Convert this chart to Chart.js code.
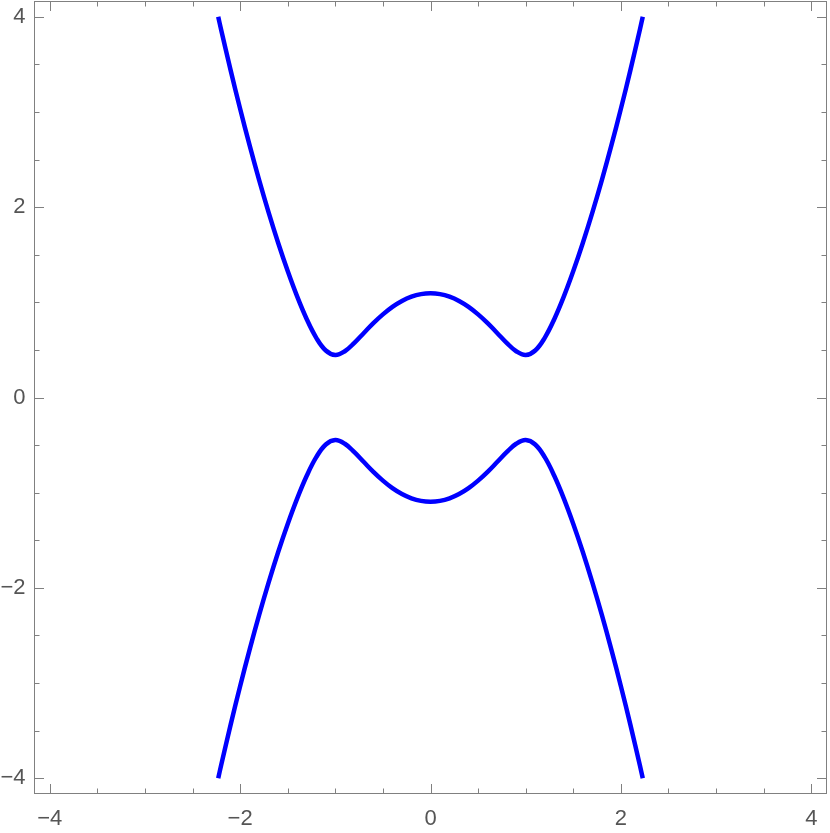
<!DOCTYPE html>
<html>
<head>
<meta charset="utf-8">
<script src="https://cdn.jsdelivr.net/npm/chart.js@4.4.1/dist/chart.umd.min.js"></script>
<style>
  html, body { margin: 0; padding: 0; background: #fff; }
  #plot { display: block; }
</style>
</head>
<body>
<canvas id="plot" width="830" height="833"></canvas>
<script>
// curve samples (upper and lower branch share x)
const xValues = [-2.23, -2.2, -2.1, -2.0, -1.9, -1.8, -1.7, -1.6, -1.5, -1.4, -1.3, -1.2, -1.1, -1.0,
  -0.9, -0.8, -0.7, -0.6, -0.5, -0.4, -0.3, -0.2, -0.1, 0,
  0.1, 0.2, 0.3, 0.4, 0.5, 0.6, 0.7, 0.8, 0.9, 1.0,
  1.1, 1.2, 1.3, 1.4, 1.5, 1.6, 1.7, 1.8, 1.9, 2.0, 2.1, 2.2, 2.23];

const upperY = [4.000, 3.866, 3.439, 3.033, 2.648, 2.284, 1.942, 1.623, 1.328, 1.059, 0.822, 0.627, 0.494, 0.447,
  0.486, 0.574, 0.678, 0.781, 0.873, 0.952, 1.014, 1.059, 1.086, 1.095,
  1.086, 1.059, 1.014, 0.952, 0.873, 0.781, 0.678, 0.574, 0.486, 0.447,
  0.494, 0.627, 0.822, 1.059, 1.328, 1.623, 1.942, 2.284, 2.648, 3.033, 3.439, 3.866, 4.000];

const lowerY = [-4.000, -3.866, -3.439, -3.033, -2.648, -2.284, -1.942, -1.623, -1.328, -1.059, -0.822, -0.627, -0.494, -0.447,
  -0.486, -0.574, -0.678, -0.781, -0.873, -0.952, -1.014, -1.059, -1.086, -1.095,
  -1.086, -1.059, -1.014, -0.952, -0.873, -0.781, -0.678, -0.574, -0.486, -0.447,
  -0.494, -0.627, -0.822, -1.059, -1.328, -1.623, -1.942, -2.284, -2.648, -3.033, -3.439, -3.866, -4.000];

const tickLabels = [-4, -2, 0, 2, 4];
const minorTicks = [-4, -3.5, -3, -2.5, -2, -1.5, -1, -0.5, 0, 0.5, 1, 1.5, 2, 2.5, 3, 3.5, 4];
const axisRange = [-4.16, 4.16];

const toPoints = ys => xValues.map((x, i) => ({ x: x, y: ys[i] }));
const fmt = v => (v < 0 ? '\u2212' + Math.abs(v) : String(v));

// Mathematica style frame with inward ticks on all four sides
const frameTicks = {
  id: 'frameTicks',
  afterDraw(chart) {
    const { ctx, chartArea: a, scales: { x, y } } = chart;
    ctx.save();
    ctx.strokeStyle = '#808080';
    ctx.lineWidth = 1;
    ctx.strokeRect(a.left, a.top, a.right - a.left, a.bottom - a.top);
    ctx.beginPath();
    minorTicks.forEach(v => {
      const len = tickLabels.includes(v) ? 9.5 : 5;
      const px = Math.round(x.getPixelForValue(v)) + 0.5;
      ctx.moveTo(px, a.bottom); ctx.lineTo(px, a.bottom - len);
      ctx.moveTo(px, a.top); ctx.lineTo(px, a.top + len);
      const py = Math.round(y.getPixelForValue(v)) + 0.5;
      ctx.moveTo(a.left, py); ctx.lineTo(a.left + len, py);
      ctx.moveTo(a.right, py); ctx.lineTo(a.right - len, py);
    });
    ctx.stroke();
    ctx.restore();
  }
};

const tickFont = { family: 'Arial, "Liberation Sans", sans-serif', size: 22 };

const noEdgePadding = s => {
  s.paddingTop = 0; s.paddingBottom = 0; s.paddingLeft = 0; s.paddingRight = 0;
};

const curveStyle = { borderColor: '#0000ff', borderWidth: 4.5, borderJoinStyle: 'round', pointRadius: 0, tension: 0.4, fill: false };

new Chart(document.getElementById('plot'), {
  type: 'line',
  data: {
    datasets: [
      Object.assign({ data: toPoints(upperY) }, curveStyle),
      Object.assign({ data: toPoints(lowerY) }, curveStyle)
    ]
  },
  options: {
    responsive: false,
    animation: false,
    layout: { padding: { top: 1.5, right: 3.5, left: 0, bottom: 0 } },
    plugins: { legend: { display: false }, tooltip: { enabled: false } },
    scales: {
      x: {
        type: 'linear',
        min: axisRange[0],
        max: axisRange[1],
        grid: { display: false, drawTicks: false },
        border: { display: false },
        afterBuildTicks: s => { s.ticks = tickLabels.map(v => ({ value: v })); },
        afterFit: s => { s.height = 39.5; noEdgePadding(s); },
        ticks: { padding: 12, color: '#555555', font: tickFont, maxRotation: 0, callback: fmt }
      },
      y: {
        type: 'linear',
        min: axisRange[0],
        max: axisRange[1],
        grid: { display: false, drawTicks: false },
        border: { display: false },
        afterBuildTicks: s => { s.ticks = tickLabels.map(v => ({ value: v })); },
        afterFit: s => { s.width = 34.5; noEdgePadding(s); },
        ticks: { padding: 9, color: '#555555', font: tickFont, callback: fmt }
      }
    }
  },
  plugins: [frameTicks]
});
</script>
</body>
</html>
